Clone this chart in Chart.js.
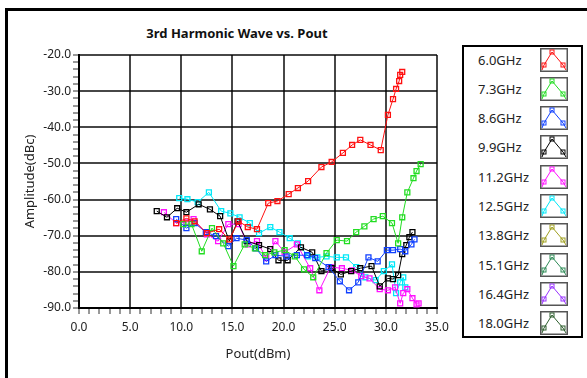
<!DOCTYPE html>
<html>
<head>
<meta charset="utf-8">
<script src="https://cdn.jsdelivr.net/npm/chart.js@4/dist/chart.umd.min.js"></script>
<style>
  body { margin: 0; width: 587px; height: 378px; overflow: hidden; position: relative; background: #fff; font-family: "Noto Sans", sans-serif; color: #222; }
  #frame { position: absolute; left: 5px; top: 8px; width: 600px; height: 400px; border-left: 3px solid #000; border-top: 3px solid #000; }
  #wrap { position: absolute; left: 0; top: 0; width: 460px; height: 378px; }
  #title { position: absolute; left: 117px; top: 24px; width: 240px; text-align: center; font-weight: bold; font-size: 13px; color: #111; }
  #legend { position: absolute; left: 462px; top: 45px; width: 117px; height: 289px; border: 2px solid #000; background: #fff; }
  .item { position: absolute; left: 0; width: 117px; height: 24px; }
  .item span { position: absolute; left: 14px; top: 3px; font-size: 13px; }
  .item svg { position: absolute; left: 76px; top: 0; }
</style>
</head>
<body>
<div id="frame"></div>
<div id="title">3rd Harmonic Wave vs. Pout</div>
<div id="wrap"><canvas id="chart" width="460" height="378"></canvas></div>
<div id="legend"></div>
<script>
const seriesLabels = ['6.0GHz', '7.3GHz', '8.6GHz', '9.9GHz', '11.2GHz', '12.5GHz', '13.8GHz', '15.1GHz', '16.4GHz', '18.0GHz'];
const seriesColors = ['#ff1010', '#22dd22', '#1040ff', '#000000', '#ff10ff', '#00e8f8', '#a0a020', '#2e8b57', '#9933ff', '#2f5f2f'];

// Pout (dBm) / 3rd harmonic amplitude (dBc) per frequency
const pout_6_0 = [9.5, 10.5, 11.3, 12.5, 13.7, 14.7, 15.6, 16.5, 17.4, 18.5, 19.4, 20.5, 21.4, 22.4, 23.7, 24.7, 25.8, 26.7, 27.5, 28.5, 29.5, 30.2, 30.7, 31.0, 31.3, 31.4, 31.6];
const amp_6_0 = [-66.5, -65.2, -66.0, -69.3, -68.2, -71.0, -66.0, -67.6, -68.2, -61.0, -60.4, -58.5, -56.8, -54.9, -51.0, -49.6, -47.1, -44.9, -43.5, -44.9, -46.3, -36.6, -32.2, -29.4, -27.2, -25.5, -24.7];

const pout_7_3 = [10.2, 11.0, 12.0, 13.0, 14.1, 15.1, 16.2, 17.2, 18.2, 19.1, 20.1, 21.1, 22.0, 22.9, 24.2, 25.2, 26.2, 27.1, 27.9, 28.8, 29.7, 30.6, 31.2, 31.6, 32.1, 32.7, 33.0, 33.4];
const amp_7_3 = [-66.8, -66.8, -74.3, -67.9, -72.1, -78.4, -72.4, -73.5, -75.4, -74.6, -74.0, -75.7, -79.3, -81.5, -74.8, -71.2, -71.5, -69.0, -67.4, -65.4, -64.6, -66.5, -72.1, -64.9, -58.0, -54.1, -52.1, -50.2];

const pout_8_6 = [9.5, 10.5, 11.3, 12.4, 13.4, 14.6, 15.4, 16.4, 17.3, 18.3, 19.2, 20.3, 21.3, 22.3, 23.1, 24.4, 25.5, 26.4, 27.3, 28.3, 29.2, 30.1, 30.7, 31.4, 31.9, 32.5, 32.8];
const amp_8_6 = [-65.4, -67.9, -66.5, -69.0, -70.1, -72.9, -70.7, -71.2, -73.5, -77.1, -75.4, -75.7, -75.4, -75.4, -76.2, -78.7, -82.6, -85.1, -82.9, -76.0, -77.1, -74.0, -74.0, -73.7, -74.3, -72.4, -71.0];

const pout_9_9 = [7.6, 8.6, 9.6, 10.5, 11.7, 12.8, 13.8, 14.7, 15.5, 16.4, 17.6, 18.7, 19.5, 20.4, 21.7, 22.8, 23.7, 24.7, 25.6, 26.6, 27.5, 28.6, 29.4, 30.2, 30.7, 31.2, 31.6, 32.0, 32.3, 32.6];
const amp_9_9 = [-63.2, -64.9, -62.4, -63.5, -61.3, -62.7, -64.6, -71.5, -66.0, -71.5, -72.6, -73.7, -76.8, -76.8, -73.2, -74.6, -79.8, -79.0, -80.7, -79.8, -79.0, -78.4, -84.0, -81.8, -82.0, -80.9, -75.1, -72.6, -70.4, -69.0];

const pout_11_2 = [8.3, 9.5, 10.5, 11.2, 12.5, 13.6, 14.6, 15.6, 16.5, 17.4, 18.3, 19.2, 20.1, 21.3, 22.6, 23.5, 24.6, 25.7, 26.7, 27.6, 28.4, 29.4, 30.2, 30.9, 31.4, 31.7, 32.1, 32.6, 33.0, 33.2];
const amp_11_2 = [-63.5, -66.5, -66.3, -65.4, -69.6, -71.5, -66.8, -66.8, -72.4, -71.5, -76.2, -71.5, -74.6, -72.4, -79.0, -85.1, -78.7, -79.0, -79.6, -81.2, -81.8, -84.8, -85.1, -84.3, -88.7, -85.9, -84.8, -87.3, -89.0, -88.7];

const pout_12_5 = [9.8, 10.6, 11.6, 12.7, 13.9, 14.8, 15.7, 16.7, 17.6, 18.7, 19.6, 20.6, 21.4, 22.4, 23.3, 24.2, 25.2, 26.1, 27.1, 28.0, 29.0, 29.8, 30.6, 31.0, 31.4, 31.7, 31.9];
const amp_12_5 = [-59.6, -59.9, -60.7, -58.0, -63.2, -63.8, -64.9, -66.5, -69.3, -67.6, -69.0, -70.7, -72.1, -75.7, -76.0, -75.7, -76.0, -76.0, -78.7, -81.5, -82.3, -79.8, -77.9, -85.9, -82.9, -81.5, -84.3];

// no traces recorded for the upper bands
const pout_13_8 = [], amp_13_8 = [];
const pout_15_1 = [], amp_15_1 = [];
const pout_16_4 = [], amp_16_4 = [];
const pout_18_0 = [], amp_18_0 = [];

const poutSets = [pout_6_0, pout_7_3, pout_8_6, pout_9_9, pout_11_2, pout_12_5, pout_13_8, pout_15_1, pout_16_4, pout_18_0];
const ampSets = [amp_6_0, amp_7_3, amp_8_6, amp_9_9, amp_11_2, amp_12_5, amp_13_8, amp_15_1, amp_16_4, amp_18_0];

const datasets = seriesLabels.map((label, i) => ({
  label: label,
  data: poutSets[i].map((x, j) => ({ x: x, y: ampSets[i][j] })),
  showLine: true,
  borderColor: seriesColors[i],
  backgroundColor: 'transparent',
  borderWidth: 1,
  pointStyle: 'rect',
  pointRadius: 3.5,
  pointBorderWidth: 1.3,
  pointBorderColor: seriesColors[i],
  pointBackgroundColor: 'transparent',
}));

// legend on the right: name, then a little zigzag sample
const legend = document.getElementById('legend');
seriesLabels.forEach((label, i) => {
  const c = seriesColors[i];
  const item = document.createElement('div');
  item.className = 'item';
  item.style.top = (0.5 + i * 29.3) + 'px';
  item.innerHTML =
    '<span>' + label + '</span>' +
    '<svg width="28" height="24" viewBox="0 0 28 24">' +
    '<rect x="0.75" y="0.75" width="26.5" height="22.5" fill="#fff" stroke="#555" stroke-width="1.5"/>' +
    '<polyline points="2,22 4,17 12,4 23,17 26,22" fill="none" stroke="' + c + '" stroke-width="1"/>' +
    '<rect x="2" y="15" width="4" height="4" fill="none" stroke="' + c + '"/>' +
    '<rect x="10" y="2" width="4" height="4" fill="none" stroke="' + c + '"/>' +
    '<rect x="21" y="15" width="4" height="4" fill="none" stroke="' + c + '"/>' +
    '</svg>';
  legend.appendChild(item);
});

const majorGrid = 'rgba(0,0,0,0.72)';

new Chart(document.getElementById('chart'), {
  type: 'scatter',
  data: { datasets: datasets },
  options: {
    responsive: false,
    animation: false,
    layout: { padding: { left: 18, top: 55, right: 23, bottom: 12 } },
    plugins: { legend: { display: false }, tooltip: { enabled: false } },
    scales: {
      x: {
        type: 'linear', min: 0, max: 35,
        afterFit: s => { s.height = 58; },
        ticks: {
          stepSize: 1, autoSkip: false, maxRotation: 0, padding: 6,
          color: '#222', font: { family: 'Noto Sans', size: 12 },
          callback: v => (v % 5 === 0 ? v.toFixed(1) : ''),
        },
        grid: {
          color: ctx => (ctx.tick && ctx.tick.value % 5 === 0 ? majorGrid : 'transparent'),
          lineWidth: 2, tickColor: '#333', tickWidth: 1, tickLength: 6,
        },
        border: { color: '#000', width: 2 },
        title: { display: true, text: 'Pout(dBm)', color: '#222', font: { family: 'Noto Sans', size: 13 }, padding: { top: 2, bottom: 4 } },
      },
      y: {
        type: 'linear', min: -90, max: -20,
        afterFit: s => { s.width = 61; },
        ticks: {
          stepSize: 2, autoSkip: false, padding: 2,
          color: '#222', font: { family: 'Noto Sans', size: 12 },
          callback: v => (v % 10 === 0 ? v.toFixed(1) : ''),
        },
        grid: {
          color: ctx => (ctx.tick && ctx.tick.value % 10 === 0 ? majorGrid : 'transparent'),
          lineWidth: 2, tickColor: '#333', tickWidth: 1, tickLength: 6,
        },
        border: { color: '#000', width: 2 },
        title: { display: true, text: 'Amplitude(dBc)', color: '#222', font: { family: 'Noto Sans', size: 13 }, padding: { top: 4, bottom: 4 } },
      },
    },
  },
});
</script>
</body>
</html>
